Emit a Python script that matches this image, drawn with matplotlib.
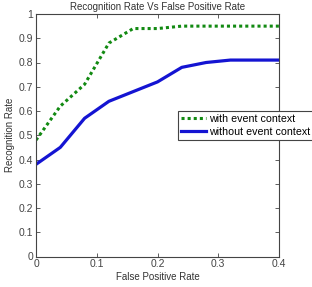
import matplotlib
matplotlib.use("Agg")
import matplotlib.pyplot as plt

fpr = [0.0, 0.04, 0.08, 0.12, 0.16, 0.20, 0.24, 0.28, 0.32, 0.36, 0.40]
with_ctx = [0.48, 0.62, 0.71, 0.88, 0.94, 0.94, 0.95, 0.95, 0.95, 0.95, 0.95]
without_ctx = [0.38, 0.45, 0.57, 0.64, 0.68, 0.72, 0.78, 0.80, 0.81, 0.81, 0.81]
xticks = [0, 0.1, 0.2, 0.3, 0.4]
yticks = [0, 0.1, 0.2, 0.3, 0.4, 0.5, 0.6, 0.7, 0.8, 0.9, 1]

plt.rcParams['font.family'] = ['Liberation Sans', 'DejaVu Sans']
fig = plt.figure(figsize=(3.12, 2.87), dpi=100)
ax = fig.add_axes([36/312, 1-256.5/287, 243/312, (256.5-14)/287])

ax.plot(fpr, with_ctx, color='#128a12', linestyle=(0, (1, 1)), linewidth=2.2,
        label='with event context')
ax.plot(fpr, without_ctx, color='#1414d2', linestyle='-', linewidth=2.3,
        label='without event context')

ax.set_xlim(0, 0.4)
ax.set_ylim(0, 1)
ax.set_xticks(xticks)
ax.set_yticks(yticks)
ax.set_xticklabels(['0', '0.1', '0.2', '0.3', '0.4'])
ax.set_yticklabels(['0', '0.1', '0.2', '0.3', '0.4', '0.5', '0.6', '0.7', '0.8', '0.9', '1'])
ax.tick_params(direction='in', top=True, right=True, labelsize=7.5, colors='#444444',
               length=3, width=0.6, pad=2)
for s in ax.spines.values():
    s.set_color('#444444')
    s.set_linewidth(0.8)

ax.set_title('Recognition Rate Vs False Positive Rate', fontsize=7, color='#333333', pad=3)
ax.set_xlabel('False Positive Rate', fontsize=7, color='#333333', labelpad=2)
ax.set_ylabel('Recognition Rate', fontsize=7, color='#333333', labelpad=3)

leg = fig.legend(loc='upper left', bbox_to_anchor=(178/312, 1-111/287), fontsize=7.7,
                 frameon=True, fancybox=False, edgecolor='#444444', framealpha=1,
                 handlelength=2.3, handletextpad=0.3, borderpad=0.3, labelspacing=0.25,
                 borderaxespad=0)
leg.get_frame().set_linewidth(0.8)

fig.savefig('out.png', dpi=100)
